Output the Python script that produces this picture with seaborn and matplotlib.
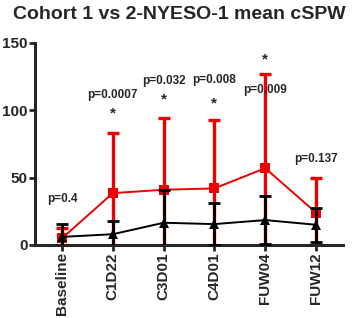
import seaborn as sns
import matplotlib.pyplot as plt
import pandas as pd
import numpy as np

# timepoints
visits = ['Baseline', 'C1D22', 'C3D01', 'C4D01', 'FUW04', 'FUW12']

# cohort 2 (red squares), mean and SD
red_mean = [5, 38.5, 41, 42, 57, 24]
red_sd = [7.5, 45, 53, 51, 70, 26]

# cohort 1 (black triangles)
black_mean = [6, 8, 16.5, 15.5, 18.5, 15]
black_sd = [9.5, 10, 24.5, 15.5, 17.5, 12.5]

p_labels = ['p=0.4', 'p=0.0007', 'p=0.032', 'p=0.008', 'p=0.009', 'p=0.137']
p_y = [34, 111, 122, 122.5, 115, 64]
star_y = [None, 98, 108, 105, 138, None]

sns.set_style('ticks')
plt.rcParams['font.family'] = ['Liberation Sans', 'DejaVu Sans']
plt.rcParams['font.weight'] = 'bold'

df = pd.DataFrame({
    'visit': visits * 2,
    'mean': red_mean + black_mean,
    'group': ['red'] * 6 + ['black'] * 6,
})

fig = plt.figure(figsize=(3.58, 3.18), dpi=100)
ax = fig.add_axes([0.098, 0.2296, 0.86, 0.6354])

x = np.arange(len(visits))
# red first, black on top
ax.errorbar(x, red_mean, yerr=red_sd, fmt='none', ecolor='#ee0000',
            elinewidth=2.4, capsize=4, capthick=2.4, zorder=2)
sns.lineplot(data=df[df.group == 'red'], x='visit', y='mean', color='#ee0000',
             marker='s', markersize=7.5, markeredgewidth=0, linewidth=1.4,
             ax=ax, zorder=3)
ax.errorbar(x, black_mean, yerr=black_sd, fmt='none', ecolor='black',
            elinewidth=2, capsize=4, capthick=2, zorder=4)
sns.lineplot(data=df[df.group == 'black'], x='visit', y='mean', color='black',
             marker='^', markersize=7.5, markeredgewidth=0, linewidth=1.4,
             ax=ax, zorder=5)

for i in range(len(visits)):
    ax.text(x[i], p_y[i], p_labels[i], ha='center', va='center',
            fontsize=8.5, fontweight='bold')
    if star_y[i] is not None:
        ax.text(x[i], star_y[i], '*', ha='center', va='center',
                fontsize=11, fontweight='bold')

ax.set_xlim(-0.53, 5.53)
ax.set_ylim(0, 150)
ax.set_yticks([0, 50, 100, 150])
ax.set_xticks(x)
ax.set_xticklabels(visits, rotation=90, fontsize=11, fontweight='bold')
ax.tick_params(axis='y', labelsize=11, width=2, length=4.3, pad=1)
ax.tick_params(axis='x', width=2, length=4.3, pad=1)
for lab in ax.get_yticklabels():
    lab.set_fontweight('bold')
ax.set_xlabel('')
ax.set_ylabel('')
sns.despine(ax=ax)
for s in ['left', 'bottom']:
    ax.spines[s].set_linewidth(2.2)
ax.spines['left'].set_bounds(0, 150)

fig.text(0.5, 0.955, 'Cohort 1 vs 2-NYESO-1 mean cSPW', ha='center', va='center',
         fontsize=14, fontweight='bold')

fig.savefig('out.png', dpi=100)
